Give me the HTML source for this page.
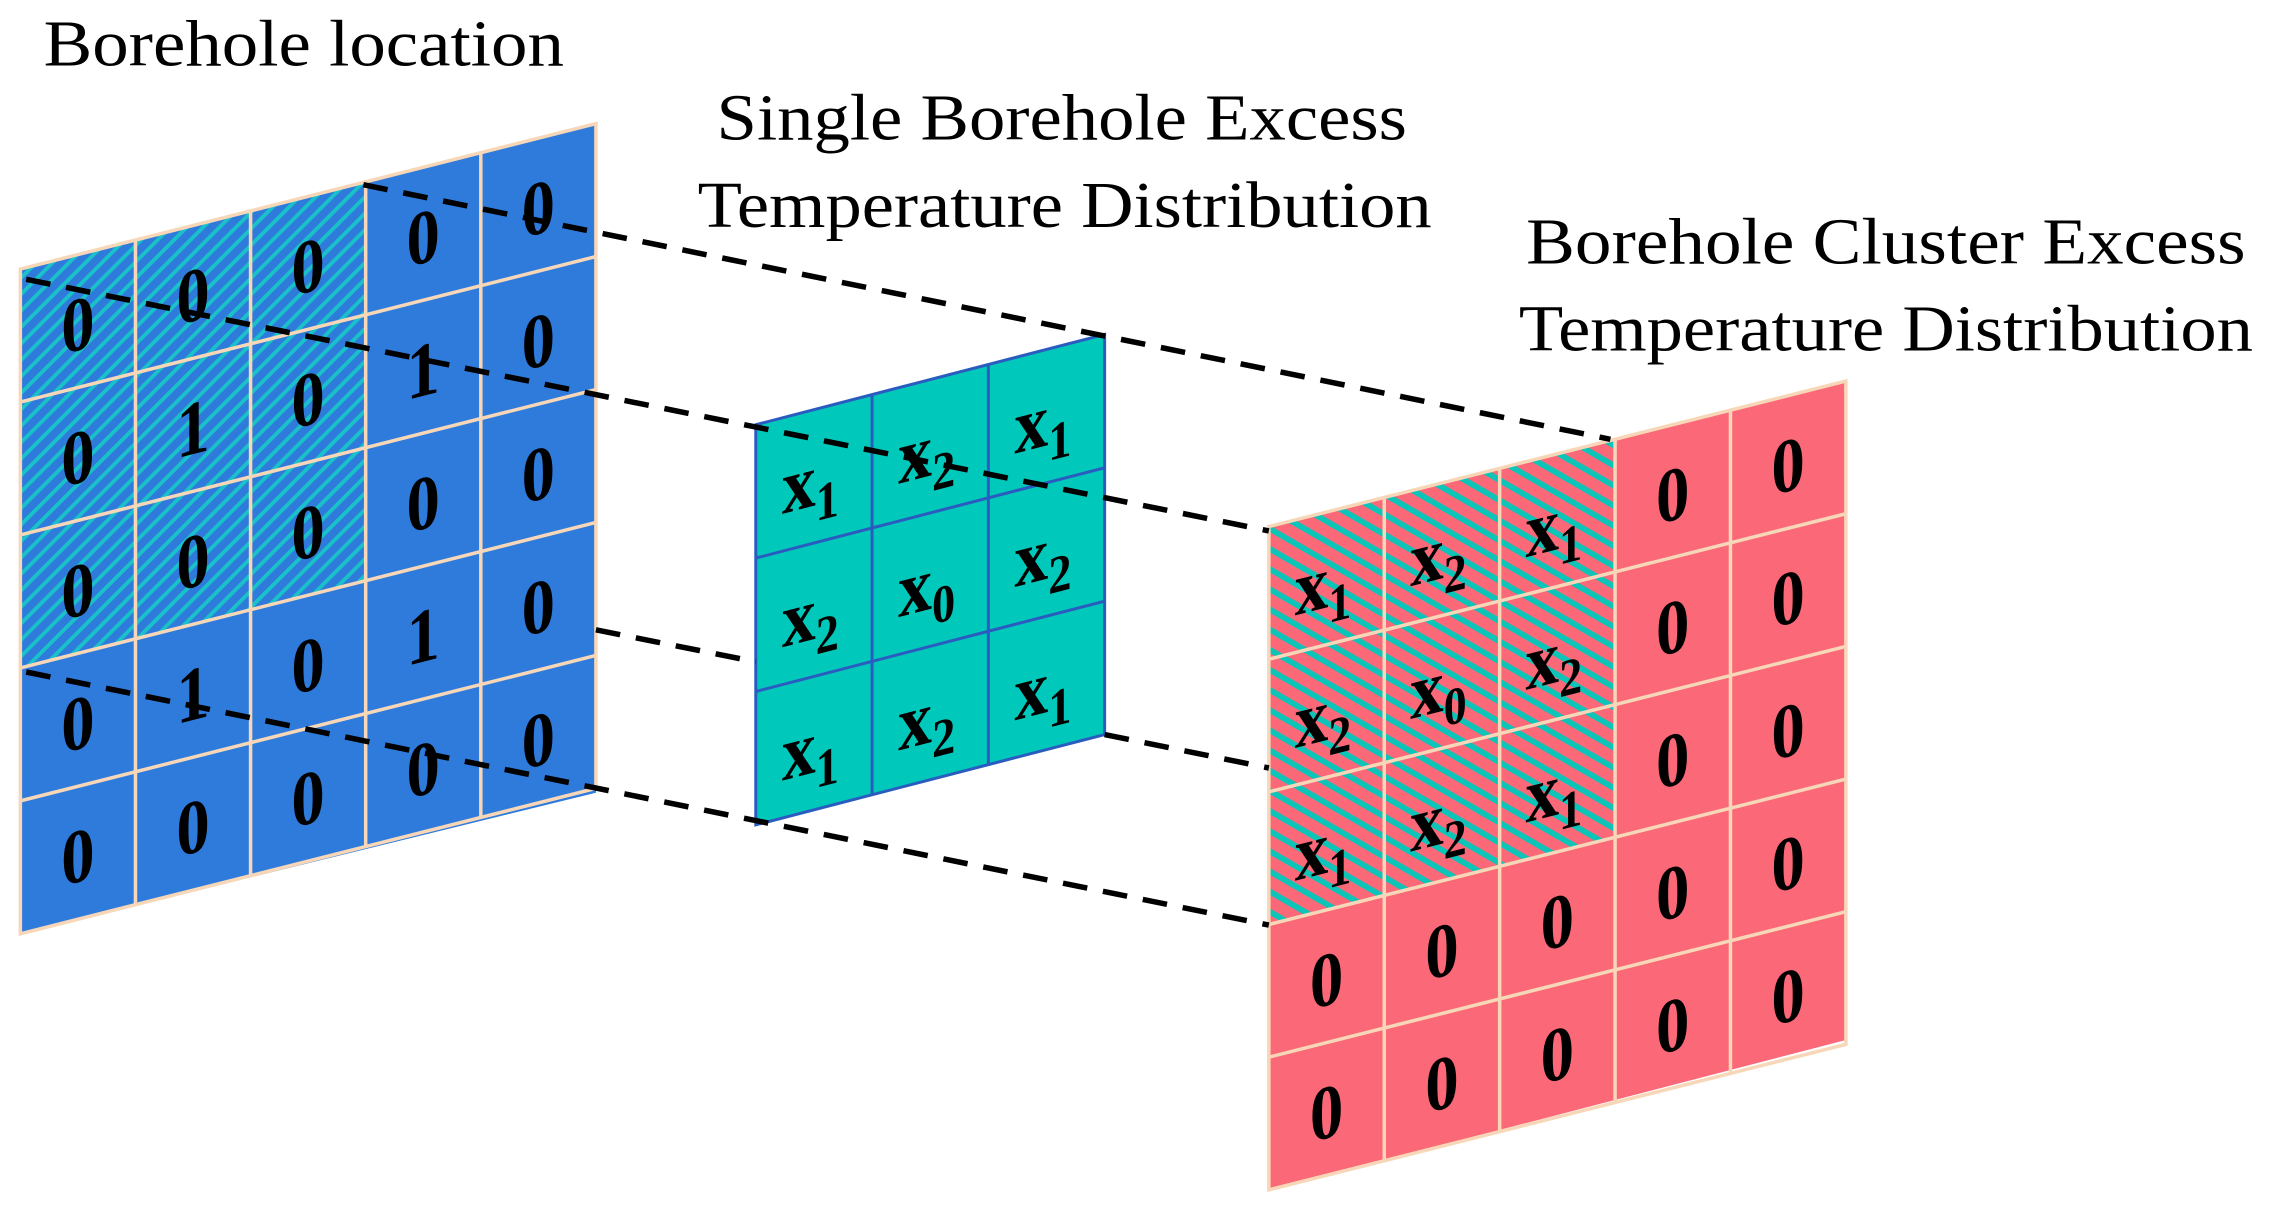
<!DOCTYPE html>
<html><head><meta charset="utf-8"><style>
html,body{margin:0;padding:0;background:#fff;width:2279px;height:1216px;overflow:hidden}
svg{display:block}
.t{font-family:"Liberation Serif",serif;fill:#000}
.g text{font-family:"Liberation Serif",serif;font-weight:bold;font-size:0.58px;text-anchor:middle;fill:#000}
</style></head><body>
<svg width="2279" height="1216" viewBox="0 0 1568 836" preserveAspectRatio="none" xmlns="http://www.w3.org/2000/svg">
<defs>
<pattern id="hb" patternUnits="userSpaceOnUse" width="8" height="8" patternTransform="rotate(45)">
<rect width="8" height="8" fill="#2f7bdc"/><rect width="2.6" height="8" fill="#19c2c8"/>
</pattern>
<pattern id="hr" patternUnits="userSpaceOnUse" width="12" height="12" patternTransform="rotate(-60)">
<rect width="12" height="12" fill="#fb6878"/><rect width="4" height="12" fill="#0cc4b8"/>
</pattern>
</defs>
<text class="t" x="30" y="45" font-size="45" textLength="358" lengthAdjust="spacingAndGlyphs">Borehole location</text>
<text class="t" x="493" y="96" font-size="45" textLength="475" lengthAdjust="spacingAndGlyphs">Single Borehole Excess</text>
<text class="t" x="480" y="156" font-size="45" textLength="505" lengthAdjust="spacingAndGlyphs">Temperature Distribution</text>
<text class="t" x="1050" y="181" font-size="45" textLength="495" lengthAdjust="spacingAndGlyphs">Borehole Cluster Excess</text>
<text class="t" x="1045" y="241" font-size="45" textLength="505" lengthAdjust="spacingAndGlyphs">Temperature Distribution</text>

<!-- left grid -->
<polygon points="14,185 410,85 410,545 14,642" fill="#2f7bdc"/>
<polygon points="14,185 251.6,125 251.6,399.2 14,459.2" fill="url(#hb)"/>
<g class="g" transform="matrix(79.2,-20,0,91.4,14,185)">
<path d="M0,0H5V5H0Z M1,0V5 M2,0V5 M3,0V5 M4,0V5 M0,1H5 M0,2H5 M0,3H5 M0,4H5" fill="none" stroke="#f7d7b8" stroke-width="3.5" vector-effect="non-scaling-stroke"/>
<text x="0.5" y="0.72">0</text><text x="1.5" y="0.72">0</text><text x="2.5" y="0.72">0</text><text x="3.5" y="0.72">0</text><text x="4.5" y="0.72">0</text>
<text x="0.5" y="1.72">0</text><text x="1.5" y="1.72">1</text><text x="2.5" y="1.72">0</text><text x="3.5" y="1.72">1</text><text x="4.5" y="1.72">0</text>
<text x="0.5" y="2.72">0</text><text x="1.5" y="2.72">0</text><text x="2.5" y="2.72">0</text><text x="3.5" y="2.72">0</text><text x="4.5" y="2.72">0</text>
<text x="0.5" y="3.72">0</text><text x="1.5" y="3.72">1</text><text x="2.5" y="3.72">0</text><text x="3.5" y="3.72">1</text><text x="4.5" y="3.72">0</text>
<text x="0.5" y="4.72">0</text><text x="1.5" y="4.72">0</text><text x="2.5" y="4.72">0</text><text x="3.5" y="4.72">0</text><text x="4.5" y="4.72">0</text>
</g>

<!-- right grid -->
<polygon points="873,362 1270,262 1270,715 873,818" fill="#fb6878"/>
<polygon points="873,362 1111.2,302 1111.2,575.6 873,635.6" fill="url(#hr)"/>
<g class="g" transform="matrix(79.4,-20,0,91.2,873,362)">
<path d="M0,0H5V5H0Z M1,0V5 M2,0V5 M3,0V5 M4,0V5 M0,1H5 M0,2H5 M0,3H5 M0,4H5" fill="none" stroke="#f7d7b8" stroke-width="3.5" vector-effect="non-scaling-stroke"/>
<text x="0.47" y="0.72">x<tspan font-size="0.4" dy="0.12">1</tspan></text><text x="1.47" y="0.72">x<tspan font-size="0.4" dy="0.12">2</tspan></text><text x="2.47" y="0.72">x<tspan font-size="0.4" dy="0.12">1</tspan></text><text x="3.5" y="0.72">0</text><text x="4.5" y="0.72">0</text>
<text x="0.47" y="1.72">x<tspan font-size="0.4" dy="0.12">2</tspan></text><text x="1.47" y="1.72">x<tspan font-size="0.4" dy="0.12">0</tspan></text><text x="2.47" y="1.72">x<tspan font-size="0.4" dy="0.12">2</tspan></text><text x="3.5" y="1.72">0</text><text x="4.5" y="1.72">0</text>
<text x="0.47" y="2.72">x<tspan font-size="0.4" dy="0.12">1</tspan></text><text x="1.47" y="2.72">x<tspan font-size="0.4" dy="0.12">2</tspan></text><text x="2.47" y="2.72">x<tspan font-size="0.4" dy="0.12">1</tspan></text><text x="3.5" y="2.72">0</text><text x="4.5" y="2.72">0</text>
<text x="0.5" y="3.72">0</text><text x="1.5" y="3.72">0</text><text x="2.5" y="3.72">0</text><text x="3.5" y="3.72">0</text><text x="4.5" y="3.72">0</text>
<text x="0.5" y="4.72">0</text><text x="1.5" y="4.72">0</text><text x="2.5" y="4.72">0</text><text x="3.5" y="4.72">0</text><text x="4.5" y="4.72">0</text>
</g>

<!-- middle grid -->
<polygon points="520,292 760,230 760,505 520,567" fill="#00c9bb"/>
<g class="g" transform="matrix(80,-20.7,0,91.7,520,292)">
<path d="M0,0H3V3H0Z M1,0V3 M2,0V3 M0,1H3 M0,2H3" fill="none" stroke="#2a5cc0" stroke-width="3" vector-effect="non-scaling-stroke"/>
<text x="0.47" y="0.72">x<tspan font-size="0.4" dy="0.12">1</tspan></text><text x="1.47" y="0.72">x<tspan font-size="0.4" dy="0.12">2</tspan></text><text x="2.47" y="0.72">x<tspan font-size="0.4" dy="0.12">1</tspan></text>
<text x="0.47" y="1.72">x<tspan font-size="0.4" dy="0.12">2</tspan></text><text x="1.47" y="1.72">x<tspan font-size="0.4" dy="0.12">0</tspan></text><text x="2.47" y="1.72">x<tspan font-size="0.4" dy="0.12">2</tspan></text>
<text x="0.47" y="2.72">x<tspan font-size="0.4" dy="0.12">1</tspan></text><text x="1.47" y="2.72">x<tspan font-size="0.4" dy="0.12">2</tspan></text><text x="2.47" y="2.72">x<tspan font-size="0.4" dy="0.12">1</tspan></text>
</g>

<!-- dashed lines -->
<g stroke="#000" stroke-width="3.8" stroke-dasharray="17 11" fill="none">
<line x1="250" y1="127" x2="1108" y2="302"/>
<line x1="18" y1="192" x2="873" y2="365"/>
<line x1="18" y1="462" x2="873" y2="636"/>
<line x1="410" y1="433" x2="520" y2="455"/>
<line x1="760" y1="505" x2="873" y2="528"/>
</g>
</svg>
</body></html>
